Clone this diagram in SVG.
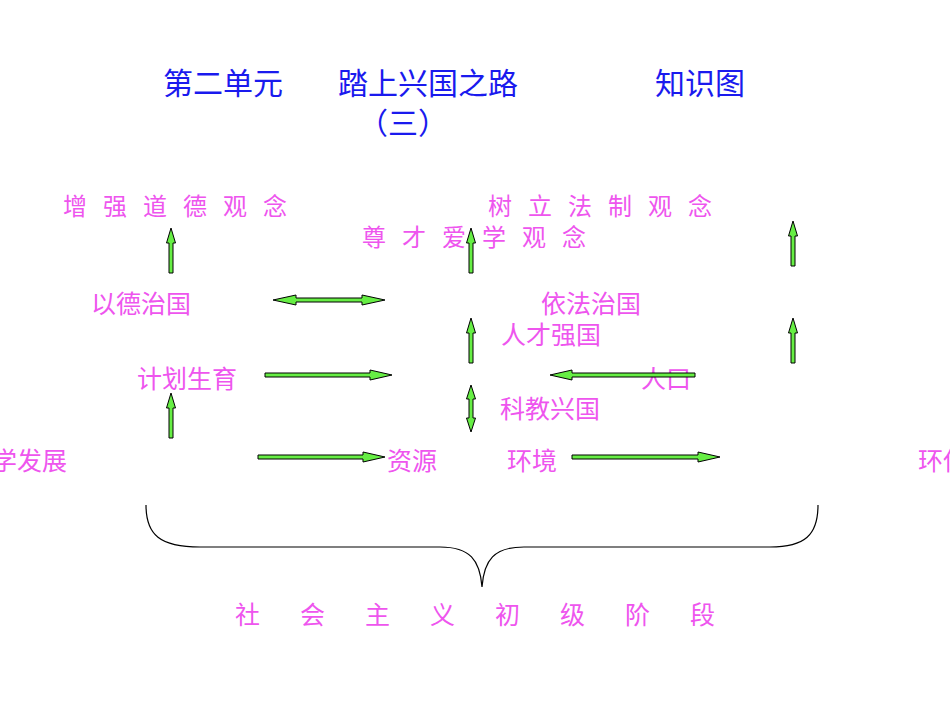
<svg xmlns="http://www.w3.org/2000/svg" width="950" height="713" viewBox="0 0 950 713">
<style>
.t{font-family:"Noto Sans CJK SC",sans-serif;fill:#1a1aee;font-size:30px}
.p{font-family:"Noto Sans CJK SC",sans-serif;fill:#ee55ee;font-size:25px}
.s{letter-spacing:16px;font-size:24px}
.a{fill:#66ee44;stroke:#000;stroke-width:1}
</style>
<rect width="950" height="713" fill="#fff"/>
<g id="title">
<text class="t" x="163" y="94">第二单元</text>
<text class="t" x="338" y="94">踏上兴国之路</text>
<text class="t" x="655" y="94">知识图</text>
<text class="t" x="358" y="134" font-size="25">（三）</text>
</g>
<g id="nodes">
<text id="n1" class="p s" x="63" y="215">增强道德观念</text>
<text id="n2" class="p s" x="488" y="215">树立法制观念</text>
<text id="n3" class="p s" x="362" y="246">尊才爱学观念</text>
<text id="n4" class="p" x="91" y="313">以德治国</text>
<text id="n5" class="p" x="541" y="313">依法治国</text>
<text id="n6" class="p" x="501" y="344">人才强国</text>
<text id="n7" class="p" x="137" y="388">计划生育</text>
<text id="n8" class="p" x="641" y="388">人口</text>
<text id="n9" class="p" x="500" y="418">科教兴国</text>
<text id="n10" class="p" x="67" y="470" text-anchor="end">科学发展</text>
<text id="n11" class="p" x="387" y="470">资源</text>
<text id="n12" class="p" x="507" y="470">环境</text>
<text id="n13" class="p" x="918" y="470">环保</text>
<text id="n14" class="p" x="235" y="624" font-size="31" letter-spacing="40">社会主义初级阶段</text>
</g>
<g id="connectors">
<polygon class="a" points="273,300 296,295 296,298 362,298 362,295 385,300 362,305 362,302 296,302 296,305"/>
<polygon class="a" points="265,373 370,373 370,370 392,375 370,380 370,377 265,377"/>
<polygon class="a" points="550,375 572,370 572,373 695,373 695,377 572,377 572,380"/>
<polygon class="a" points="258,455 363,455 363,452 385,457 363,462 363,459 258,459"/>
<polygon class="a" points="572,455 698,455 698,452 720,457 698,462 698,459 572,459"/>
<polygon class="a" points="171,228 175.5,243 173,243 173,273 169,273 169,243 166.5,243"/>
<polygon class="a" points="171,393 175.5,408 173,408 173,438 169,438 169,408 166.5,408"/>
<polygon class="a" points="471,228 475.5,243 473,243 473,273 469,273 469,243 466.5,243"/>
<polygon class="a" points="471,318 475.5,333 473,333 473,363 469,363 469,333 466.5,333"/>
<polygon class="a" points="471,385 475.5,399 473,399 473,418 475.5,418 471,432 466.5,418 469,418 469,399 466.5,399"/>
<polygon class="a" points="793,221 797.5,236 795,236 795,266 791,266 791,236 788.5,236"/>
<polygon class="a" points="793,318 797.5,333 795,333 795,363 791,363 791,333 788.5,333"/>
<path d="M146,505 C146,535 160,547 200,547 L440,547 C470,547 480,560 482,587 C484,560 494,547 524,547 L770,547 C805,547 818,535 818,505" fill="none" stroke="#000" stroke-width="1.2"/>
</g>
</svg>
